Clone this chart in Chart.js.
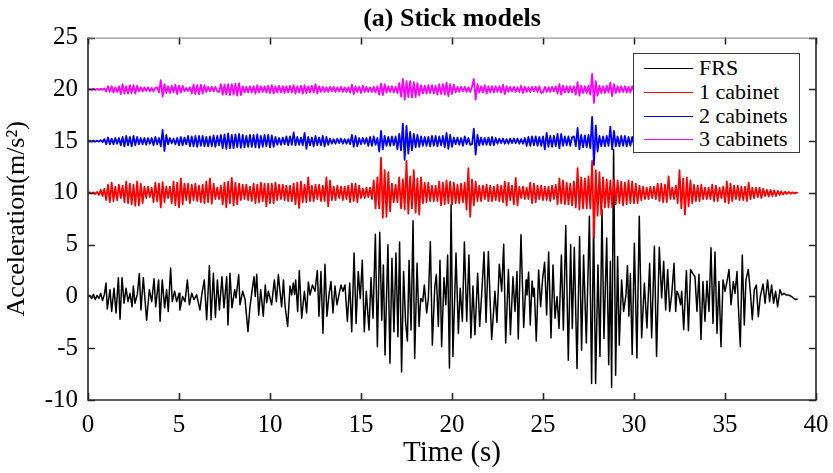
<!DOCTYPE html>
<html>
<head>
<meta charset="utf-8">
<script src="https://cdn.jsdelivr.net/npm/chart.js@4/dist/chart.umd.min.js"></script>
<style>
html,body{margin:0;padding:0;background:#fff;}
#wrap{position:relative;width:833px;height:473px;overflow:hidden;}
#legend{position:absolute;left:633px;top:53px;width:167px;height:100px;background:#fff;border:1px solid #3a3a3a;box-sizing:border-box;font-family:'Liberation Serif','Times New Roman',serif;font-size:22px;color:#000;}
.row{position:absolute;left:0;height:24px;line-height:24px;white-space:nowrap;}
.swatch{position:absolute;left:10px;width:49px;top:12px;height:0;border-top:1px solid;}
.lab{position:absolute;left:65px;top:0;}
</style>
</head>
<body>
<div id="wrap"><canvas id="c" width="833" height="473"></canvas><div id="legend"></div></div>
<script>
// ---- data ----
const seriesNames = ['FRS', '1 cabinet', '2 cabinets', '3 cabinets'];
const seriesColors = ['#000000', '#ff0000', '#0000ff', '#ff00ff'];
const cabinetOffsets = [10, 15, 20];       // vertical offset of each cabinet trace (m/s^2)
const sampleStep = 0.1;                    // s, sampling of the cabinet traces
const xTicks = [0, 5, 10, 15, 20, 25, 30, 35, 40];
const yTicks = [-10, -5, 0, 5, 10, 15, 20, 25];

// FRS (black) : time (s) and acceleration (m/s^2) at the visible turning points
const frsTime = [
0,0.1,0.2,0.3,0.4,0.5,0.6,0.7,0.8,0.9,
0.99,1.06,1.21,1.3,1.43,1.54,1.67,1.76,1.87,1.98,2.09,2.2,2.31,2.42,2.49,2.58,2.71,2.82,2.91,3.04,
3.22,3.37,3.5,3.63,3.72,3.88,3.96,4.08,4.21,4.32,4.41,4.54,4.63,4.76,4.87,5.0,5.05,5.2,5.33,5.46,
5.57,5.7,5.82,5.97,6.15,6.25,6.39,6.52,6.67,6.76,6.89,7.0,7.11,7.22,7.36,7.47,7.62,7.69,7.8,7.91,
8.06,8.13,8.28,8.35,8.5,8.63,8.79,8.9,9.01,9.12,9.19,9.27,9.38,9.49,9.63,9.74,
9.82,9.91,10.09,10.24,10.35,10.46,10.55,10.64,10.74,10.82,10.97,11.1,11.19,11.28,11.35,11.41,11.52,11.61,11.74,11.89,
12.01,12.11,12.2,12.33,12.47,12.6,12.69,12.8,12.91,13.02,13.13,13.24,13.35,13.46,13.57,13.68,13.79,13.9,14.01,14.12,
14.25,14.38,14.49,14.62,14.73,14.85,14.96,15.07,15.18,15.29,15.44,15.55,15.66,15.79,15.9,16.03,16.14,16.23,16.32,16.48,
16.59,16.7,16.81,16.92,17.03,17.12,17.23,17.34,17.45,17.55,17.64,17.75,17.86,17.95,18.08,18.19,18.28,18.39,18.48,18.61,
18.7,18.81,18.92,19.05,19.14,19.25,19.34,19.43,19.56,19.66,19.76,19.86,19.95,
20.05,20.22,20.35,20.45,20.57,20.68,20.81,20.93,21.04,21.15,21.26,21.41,21.52,21.63,21.76,21.87,22.0,22.09,22.18,22.36,
22.47,22.6,22.73,22.84,22.95,23.1,23.21,23.35,23.46,23.57,23.64,23.79,23.94,24.07,24.12,24.21,24.3,24.4,24.47,24.52,
24.63,24.76,24.87,24.98,25.09,25.2,25.31,25.44,25.55,25.66,25.77,25.88,26.01,26.12,26.25,26.39,26.52,26.61,26.72,26.87,
27.01,27.12,27.23,27.38,27.55,27.67,27.78,27.89,28.02,28.13,28.24,28.35,28.5,28.61,28.7,28.77,28.88,28.99,29.1,29.19,
29.32,29.43,29.56,29.64,29.72,29.8,29.9,
30.02,30.16,30.29,30.42,30.57,30.71,30.86,30.97,31.12,31.24,31.39,31.52,31.63,31.74,31.85,31.96,32.07,32.2,32.29,32.36,
32.45,32.56,32.62,32.73,32.88,32.99,33.11,33.22,33.35,33.46,33.57,33.68,33.79,33.9,34.01,34.12,34.23,34.34,34.45,34.56,
34.67,34.78,34.89,35.0,35.11,35.22,35.33,35.46,35.55,35.66,35.73,35.84,35.95,36.06,36.15,36.28,36.39,36.5,36.61,36.72,
36.83,36.94,37.09,37.2,37.34,37.45,37.56,37.67,37.78,37.89,38.02,38.13,38.24,38.35,38.48,38.66,38.75,38.88,38.99
];
const frsAccel = [
0,0.1,-0.2,0.2,-0.3,0.1,-0.2,0.3,-0.4,0.2,
1.3,-1.2,0.65,-1.45,0.8,-1.6,1.8,-2.2,1.8,-0.65,0.8,-0.5,0.3,-1.0,1.0,-0.65,0.2,2.2,-1.3,1.8,
-2.3,0.65,-0.5,1.7,-1.0,1.6,-2.4,1.6,-1.1,0.65,-1.45,2.75,-0.5,0.5,-0.5,0.3,-1.3,0,-0.5,1.6,
-0.8,0.3,-0.3,0.15,-1.3,0.15,1.6,-2.25,3.0,-2.25,2.25,-2.0,1.6,-1.3,1.9,-1.1,1.9,-2.75,2.25,-1.1,
0.65,-0.15,2.1,-0.8,0.5,-0.3,-3.4,-1.0,0.5,1.9,0,2.15,-1.8,0.65,-1.9,1.1,
-0.6,0.5,-0.8,1.6,-0.5,2.1,0.5,-1.0,1.6,-0.8,-2.9,1.0,0.15,1.3,0.2,1.6,-1.45,2.5,-2.1,0.5,
-1.6,1.4,0.15,1.1,0.5,2.5,-1.9,2.4,-3.55,3.1,-1.9,0.15,1.45,-1.6,1.0,-0.8,0.15,1.1,0.5,1.1,
-2.4,1.3,-3.4,4.2,-2.6,2.4,-0.2,3.5,-3.4,0.5,-3.25,1.8,-2.1,6.0,-4.85,6.2,-2.3,3.05,-5.65,5.0,
-6.45,3.7,-3.4,4.2,-3.9,5.25,-7.3,2.4,-2.5,-4.3,3.5,-3.25,7.3,-6.0,3.2,-2.9,-0.2,-0.5,1.1,-1.6,
-0.2,5.3,-4.7,0.8,2.1,-2.9,3.5,-4.85,1.8,-0.8,4.0,-6.9,8.85,
-5.8,4.2,-3.55,0.8,-2.4,5.25,-2.4,4.0,-4.0,1.0,-3.7,2.25,-2.9,0.15,4.3,-2.5,4.35,-0.2,-4.15,0.5,
-2.5,3.1,0.5,5.05,-4.5,2.6,-3.7,1.9,-1.45,2.4,-4.1,5.95,-3.0,1.6,0.15,2.35,-2.75,1.5,0,0.8,
-4.3,2.55,-1.0,1.75,3.3,-1.8,4.3,-4.0,3.05,-2.1,0,-3.1,4.0,-3.25,6.85,-6.15,5.0,-3.1,4.75,-6.95,
5.8,-5.2,4.0,-4.5,7.75,-8.4,7.25,-8.4,3.05,-5.8,8.4,-4.05,5.65,-6.6,3.4,-8.8,14.2,-7.6,3.85,-4.7,
1.6,-1.45,0.15,3.0,-1.9,2.2,-5.6,
5.15,-5.95,7.75,-4.0,1.3,-3.05,3.2,-4.0,4.85,-5.8,4.75,-0.15,3.4,-1.3,2.6,-1.45,0.15,3.2,-1.45,0.5,
0.15,-0.8,0.5,-3.2,2.5,-3.3,2.6,2.25,1.9,-1.45,2.15,-4.15,1.45,-2.4,1.5,-1.45,4.7,-2.6,4.3,-3.55,
1.45,-4.85,1.6,0.5,1.45,2.6,-0.8,1.45,0.3,2.4,-0.8,-4.85,4.0,-2.75,1.6,2.6,0.5,-2.25,0.65,1.1,
-1.95,0,1.2,-0.65,1.6,-0.5,1.1,-0.65,0.5,-1.0,0.65,0.15,0.3,0.15,0.15,0,-0.15,-0.3,-0.25
];

// 1 cabinet (red): deviation about its offset, one value every 0.1 s from 0 to 39 s
const cab1Accel = [
0,0.05,-0.05,0.05,-0.1,0.1,-0.2,0.3,-0.3,0.4,
-0.7,0.8,-0.9,1.0,-0.8,0.6,-0.7,0.8,-0.5,0.7,
-0.9,1.1,-1.0,0.9,-1.1,0.8,-1.25,1.1,-1.2,0.9,
-1.0,0.6,-0.5,0.6,-0.4,0.5,-0.9,1.0,-0.8,0.9,
-1.4,1.05,-0.9,0.6,-0.5,0.6,-1.0,1.1,-1.2,1.0,
-1.4,1.4,-1.1,0.9,-0.7,0.9,-1.0,0.8,-0.7,0.9,
-0.8,0.7,-0.9,0.8,-1.0,1.1,-0.9,1.4,-1.05,0.9,
-0.6,0.5,-0.6,0.7,-1.1,1.0,-1.4,1.1,-1.0,1.45,
-1.2,1.0,-1.1,0.9,-0.7,0.8,-0.6,0.8,-0.7,0.6,
-0.8,0.9,-1.0,0.8,-0.9,1.0,-0.8,0.9,-1.3,0.9,
-1.0,0.9,-1.0,1.0,-0.7,0.8,-0.6,0.8,-0.7,0.7,
-0.8,0.7,-0.8,0.9,-1.1,1.0,-1.45,1.1,-0.9,0.8,
-0.9,1.5,-0.8,0.7,-0.8,0.8,-0.6,0.8,-0.8,0.7,
-0.8,1.5,-1.3,1.2,-0.7,0.6,-0.7,0.7,-0.5,0.6,
-0.7,0.6,-0.6,0.7,-0.9,0.9,-0.8,0.9,-0.9,0.7,
-0.5,0.4,-0.5,0.5,-0.4,0.5,-0.6,1.2,-1.5,1.5,
-1.5,3.4,-2.4,2.2,-2.3,2.0,-1.8,0.9,-0.9,0.8,
-0.9,1.5,-1.5,1.3,-1.6,3.1,-2.0,1.6,-1.5,2.2,
-1.9,1.4,-2.1,1.5,-1.0,1.0,-0.9,1.0,-0.8,0.7,
-0.8,0.7,-0.8,1.1,-1.2,1.0,-1.1,1.2,-1.0,1.1,
-1.1,1.0,-1.0,0.8,-1.0,0.9,-0.9,1.0,-1.6,2.4,
-2.3,1.3,-1.2,1.1,-0.8,0.7,-0.8,0.7,-0.6,0.8,
-0.8,0.7,-0.8,0.6,-0.7,0.8,-0.8,0.7,-0.9,1.1,
-1.2,1.0,-0.7,0.7,-1.1,1.45,-1.2,0.6,-0.5,0.6,
-0.6,0.5,-0.6,1.0,-1.0,0.9,-0.9,0.7,-0.6,0.7,
-0.7,0.6,-0.7,0.6,-0.8,0.7,-0.6,0.8,-1.1,1.4,
-1.0,1.2,-1.1,1.0,-1.1,0.9,-1.2,1.1,-1.4,2.4,
-1.6,1.5,-1.5,1.4,-1.5,1.6,-1.5,3.1,-4.3,2.2,
-2.2,2.0,-2.1,1.5,-1.4,1.3,-1.4,1.2,-1.4,1.3,
-1.1,1.2,-1.0,1.1,-1.2,1.0,-1.1,1.2,-1.0,1.1,
-1.0,0.9,-1.0,0.7,-0.7,0.6,-0.6,0.5,-0.6,0.6,
-0.5,0.6,-0.6,0.9,-0.8,0.9,-0.9,0.8,-0.9,1.6,
-0.6,0.5,-0.6,0.7,-1.0,2.2,-1.5,1.4,-2.1,1.5,
-1.3,1.2,-1.0,0.8,-0.8,0.7,-0.8,0.8,-0.6,0.5,
-0.6,0.5,-0.6,0.8,-0.8,0.7,-0.8,0.5,-0.5,0.6,
-0.9,1.1,-1.0,0.9,-0.8,0.7,-0.6,0.7,-0.7,0.6,
-0.7,0.6,-0.8,1.0,-0.6,0.5,-0.5,0.5,-0.4,0.5,
-0.5,0.4,-0.3,0.3,-0.35,0.3,-0.3,0.25,-0.3,0.2,
-0.2,0.15,-0.15,0.12,-0.1,0.1,-0.08,0.06,-0.05,0.03,
0
];

// 2 cabinets (blue): deviation about its offset, every 0.1 s (the part under the legend is not visible)
const cab2Accel = [
0,0.05,-0.05,0.05,-0.05,0.05,-0.05,0.1,-0.1,0.2,
-0.3,0.35,-0.3,0.25,-0.3,0.3,-0.25,0.3,-0.4,0.4,
-0.5,0.5,-0.4,0.4,-0.5,0.5,-0.4,0.4,-0.3,0.3,
-0.3,0.3,-0.35,0.3,-0.25,0.3,-0.4,0.4,-0.3,0.3,
-0.5,1.1,-0.95,0.6,-0.3,0.3,-0.2,0.25,-0.3,0.3,
-0.4,0.4,-0.4,0.35,-0.3,0.5,-0.5,0.45,-0.5,0.5,
-0.55,0.5,-0.45,0.5,-0.5,0.4,-0.5,0.45,-0.5,0.55,
-0.55,0.5,-0.4,0.6,-0.7,0.65,-0.75,0.75,-0.7,0.6,
-0.7,0.65,-0.6,0.7,-0.65,0.6,-0.6,0.5,-0.55,0.6,
-0.55,0.6,-0.6,0.65,-0.65,0.5,-0.55,0.6,-0.5,0.6,
-0.6,0.55,-0.55,0.4,-0.35,0.3,-0.35,0.35,-0.3,0.45,
-0.4,0.45,-0.35,0.85,-0.4,0.4,-0.35,0.35,-0.4,0.8,
-0.75,0.4,-0.4,0.35,-0.5,0.5,-0.4,0.35,-0.4,0.5,
-0.5,0.4,-0.35,0.25,-0.25,0.2,-0.25,0.25,-0.2,0.25,
-0.25,0.2,-0.25,0.2,-0.3,0.6,-0.55,0.5,-0.5,0.3,
-0.3,0.3,-0.25,0.3,-0.45,0.4,-0.45,0.45,-0.35,0.3,
-1.0,1.0,-0.8,0.5,-0.45,0.4,-0.45,0.45,-0.4,0.45,
-0.8,0.7,-0.9,1.7,-1.8,1.5,-1.2,0.9,-0.9,0.7,
-0.6,0.6,-0.55,0.45,-0.45,0.4,-0.45,0.4,-0.5,0.5,
-0.45,0.5,-0.5,0.45,-0.4,0.5,-0.6,0.8,-0.75,0.6,
-0.55,0.35,-0.3,0.35,-0.35,0.3,-0.45,0.45,-0.3,0.3,
-0.35,-0.3,1.2,-1.3,0.6,-0.4,0.35,-0.35,0.3,-0.35,
0.35,-0.4,0.4,-0.4,0.3,-0.25,0.25,-0.2,0.25,-0.25,
0.2,-0.25,0.25,-0.2,0.25,-0.2,0.25,-0.25,0.2,-0.25,
0.3,-0.45,0.4,-0.45,0.45,-0.4,0.45,-0.45,0.4,-0.45,
0.45,-0.8,0.8,-0.55,0.5,-0.55,0.5,-0.5,0.7,-0.7,
0.7,-0.45,0.45,-0.4,0.45,-0.45,0.4,0.45,-0.5,1.27,
-0.8,0.6,-0.6,0.55,-0.6,0.6,-0.7,2.35,-2.3,1.5,
-1.0,0.5,-0.5,0.45,-0.5,0.5,-0.45,1.4,-0.8,1.0,
-0.5,0.45,-0.5,0.5,-0.45,0.5,-0.5,0.4,-0.45,0.4,
-0.4,0.4,-0.35,0.4,-0.4,0.35,-0.4,0.35,-0.3,0.35,
-0.35
];

// 3 cabinets (magenta): deviation about its offset, every 0.1 s
const cab3Accel = [
0,0.03,-0.03,0.05,-0.05,0.05,-0.05,0.05,-0.05,0.1,
-0.2,0.3,-0.25,0.3,-0.3,0.2,-0.25,0.3,-0.45,0.5,
-0.4,0.3,-0.4,0.4,-0.35,0.4,-0.4,0.35,-0.2,0.2,
-0.2,0.2,-0.15,0.2,-0.2,0.15,-0.2,0.15,0.2,-0.3,
0.88,-0.7,0.5,-0.35,0.3,-0.35,0.35,-0.3,0.45,-0.45,
0.35,-0.3,0.35,-0.2,0.15,-0.15,0.2,-0.4,0.45,-0.45,
0.4,-0.45,0.45,-0.4,0.4,-0.25,0.25,-0.2,0.25,-0.2,
0.25,-0.2,-0.25,0.5,-0.5,0.45,-0.5,0.5,-0.55,0.5,
-0.5,0.55,-0.6,0.6,-0.55,0.3,-0.3,0.25,-0.3,0.3,
-0.3,0.3,-0.4,0.4,-0.3,0.3,-0.25,0.3,-0.3,0.35,
-0.35,0.4,-0.4,0.3,-0.3,0.35,-0.3,0.3,-0.35,0.3,
-0.3,0.35,-0.3,0.4,-0.4,0.3,-0.3,0.35,-0.4,0.4,
-0.35,0.3,-0.3,0.35,-0.3,0.5,-0.4,0.3,-0.25,0.25,
-0.25,0.2,-0.25,0.25,-0.2,0.25,-0.25,0.2,-0.2,0.25,
-0.25,0.2,-0.25,0.2,-0.3,0.45,-0.45,0.3,-0.25,0.25,
-0.35,0.35,-0.25,0.25,-0.25,0.2,-0.25,0.25,-0.3,0.3,
-0.5,0.55,-0.55,0.5,-0.3,0.3,-0.25,0.3,-0.3,0.25,
-0.35,0.6,-0.7,1.0,-1.0,0.8,-0.75,0.8,-0.8,0.7,
-0.75,0.6,-0.6,0.4,-0.4,0.35,-0.4,0.4,-0.35,0.4,
-0.4,0.35,-0.5,0.5,-0.45,0.5,-0.5,0.65,-0.65,0.5,
-0.45,0.45,-0.3,0.25,-0.25,0.25,-0.2,0.25,-0.25,0.2,
-0.25,0.25,1.0,-1.0,0.5,-0.3,0.3,-0.3,0.4,-0.4,
0.3,-0.3,0.3,-0.3,0.3,-0.25,0.3,-0.3,0.45,-0.45,
0.3,-0.25,0.25,-0.2,0.25,-0.25,0.2,-0.25,0.35,-0.35,
0.25,-0.25,0.2,-0.25,0.25,-0.2,0.25,-0.25,0.3,-0.35,
-0.3,0.25,-0.25,0.2,-0.25,0.25,-0.2,0.3,-0.4,0.5,
-0.5,0.35,-0.3,0.3,-0.3,0.3,-0.3,0.3,-0.5,0.7,
-0.6,0.35,-0.35,0.3,-0.35,0.35,-0.5,1.5,-1.3,0.8,
-0.6,0.35,-0.35,0.3,-0.35,0.35,-0.3,0.65,-0.65,0.5,
-0.35,0.3,-0.3,0.3,-0.25,0.3,-0.3,0.25,-0.3,0.3,
-0.25,0.3,-0.25,0.25,-0.3,0.25,-0.25,0.3,-0.25,0.25,
-0.25
];

// ---- build the library's data table from the arrays ----
const n = Math.min(frsTime.length, frsAccel.length);
const frsPoints = [];
for (let i = 0; i < n; i++) frsPoints.push({ x: frsTime[i], y: frsAccel[i] });
function cabinetPoints(vals, offset) {
  return vals.map((v, i) => ({ x: Math.round(i * sampleStep * 100) / 100, y: v + offset }));
}
const cabinetSeries = [cab1Accel, cab2Accel, cab3Accel];

const FONT = "'Liberation Serif', 'Times New Roman', Times, serif";
Chart.defaults.font.family = FONT;
Chart.defaults.color = '#000';

const datasets = [{
  label: seriesNames[0], data: frsPoints, borderColor: seriesColors[0], borderWidth: 1.5, order: 3
}];
cabinetSeries.forEach((vals, k) => {
  datasets.push({
    label: seriesNames[k + 1], data: cabinetPoints(vals, cabinetOffsets[k]),
    borderColor: seriesColors[k + 1], borderWidth: 1.8, order: 2 - k
  });
});

// axes box with inward ticks (MATLAB style)
const boxPlugin = {
  id: 'matlabBox',
  afterDraw(chart) {
    const { ctx, chartArea: a, scales: { x, y } } = chart;
    const L = 7;
    ctx.save();
    ctx.strokeStyle = '#262626';
    ctx.lineWidth = 1.6;
    ctx.beginPath();
    ctx.moveTo(a.left, a.top); ctx.lineTo(a.left, a.bottom); ctx.lineTo(a.right, a.bottom); ctx.lineTo(a.right, a.top);
    x.ticks.forEach(t => {
      const px = Math.round(x.getPixelForValue(t.value)) + 0.5;
      ctx.moveTo(px, a.bottom); ctx.lineTo(px, a.bottom - L);
      ctx.moveTo(px, a.top); ctx.lineTo(px, a.top + L);
    });
    y.ticks.forEach(t => {
      const py = Math.round(y.getPixelForValue(t.value)) + 0.5;
      ctx.moveTo(a.left, py); ctx.lineTo(a.left + L, py);
      ctx.moveTo(a.right, py); ctx.lineTo(a.right - L, py);
    });
    ctx.stroke();
    ctx.strokeStyle = '#7a7a7a';
    ctx.lineWidth = 1;
    ctx.beginPath();
    ctx.moveTo(a.left, a.top + 0.5); ctx.lineTo(a.right, a.top + 0.5);
    ctx.stroke();
    ctx.restore();
  }
};

new Chart(document.getElementById('c'), {
  type: 'line',
  data: { datasets },
  plugins: [boxPlugin],
  options: {
    responsive: false,
    animation: false,
    devicePixelRatio: 1,
    events: [],
    parsing: true,
    layout: { padding: { left: 0, right: 17, top: 0, bottom: 0 } },
    elements: {
      point: { radius: 0, hoverRadius: 0 },
      line: { tension: 0, fill: false, borderJoinStyle: 'round', borderCapStyle: 'butt' }
    },
    plugins: {
      legend: { display: false },
      tooltip: { enabled: false },
      title: {
        display: true, text: '(a) Stick models', fullSize: false,
        font: { size: 26, weight: 'bold', family: FONT, lineHeight: 1.1 },
        color: '#000', padding: { top: 5, bottom: 4 }
      }
    },
    scales: {
      x: {
        type: 'linear', position: 'bottom', min: 0, max: 40,
        afterBuildTicks: s => { s.ticks = xTicks.map(v => ({ value: v })); },
        afterFit: s => { s.height = 73; s.paddingLeft = 0; s.paddingRight = 0; },
        ticks: { font: { size: 25, family: FONT }, color: '#000', padding: 10, maxRotation: 0, autoSkip: false },
        grid: { display: false, drawTicks: false },
        border: { display: false },
        title: { display: true, text: 'Time (s)', color: '#000', font: { size: 29, family: FONT }, padding: { top: 0, bottom: 2 } }
      },
      y: {
        type: 'linear', min: -10, max: 25,
        afterBuildTicks: s => { s.ticks = yTicks.map(v => ({ value: v })); },
        afterFit: s => { s.width = 88; s.paddingTop = 0; s.paddingBottom = 0; },
        ticks: { font: { size: 25, family: FONT }, color: '#000', padding: 10, autoSkip: false },
        grid: { display: false, drawTicks: false },
        border: { display: false },
        title: { display: true, text: 'Acceleration(m/s\u00B2)', color: '#000', font: { size: 26, family: FONT }, padding: { top: 2, bottom: 0 } }
      }
    }
  }
});

// legend (HTML overlay inside the axes, like the MATLAB legend box)
const legend = document.getElementById('legend');
seriesNames.forEach((name, i) => {
  const row = document.createElement('div');
  row.className = 'row';
  row.style.top = (2 + i * 23.8) + 'px';
  row.style.width = '100%';
  const sw = document.createElement('span');
  sw.className = 'swatch';
  sw.style.borderTopColor = seriesColors[i];
  const lab = document.createElement('span');
  lab.className = 'lab';
  lab.textContent = name;
  row.appendChild(sw); row.appendChild(lab);
  legend.appendChild(row);
});
</script>
</body>
</html>
